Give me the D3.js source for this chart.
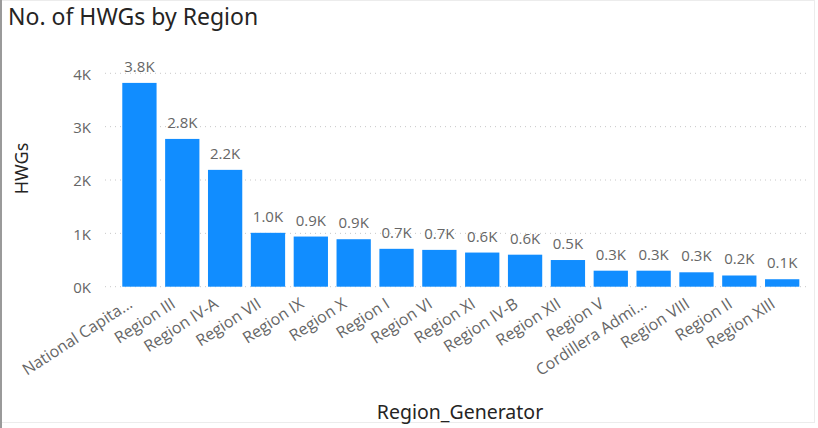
<!DOCTYPE html>
<html>
<head>
<meta charset="utf-8">
<script src="https://cdn.jsdelivr.net/npm/d3@7"></script>
<style>
  html, body { margin: 0; padding: 0; background: #ffffff; }
  svg { display: block; }
</style>
</head>
<body>
<svg id="chart" width="818" height="428"></svg>
<script>
const categories = ["National Capita...", "Region III", "Region IV-A", "Region VII", "Region IX", "Region X",
  "Region I", "Region VI", "Region XI", "Region IV-B", "Region XII", "Region V",
  "Cordillera Admi...", "Region VIII", "Region II", "Region XIII"];
const values = [3820, 2770, 2190, 1010, 940, 890, 710, 690, 640, 600, 500, 300, 300, 270, 210, 140];
const yTicks = [0, 1000, 2000, 3000, 4000];
const titleText = "No. of HWGs by Region";
const xTitle = "Region_Generator";
const yTitle = "HWGs";

const svg = d3.select("#chart");
const W = 818, H = 428;
const labelFont = "'Open Sans', 'Noto Sans', sans-serif";
const titleFont = "'Noto Sans', 'Open Sans', sans-serif";

// frame
svg.append("rect").attr("x", 0.5).attr("y", 0.5).attr("width", W - 4).attr("height", H - 6)
  .attr("fill", "none").attr("stroke", "#ececec");
svg.append("line").attr("x1", 1).attr("x2", 1).attr("y1", 0).attr("y2", H)
  .attr("stroke", "#9a9a9a").attr("stroke-width", 2);

const x = d3.scaleBand().domain(categories).range([118, 803.6]).paddingInner(0.2).paddingOuter(0.1);
const y = d3.scaleLinear().domain([0, 4000]).range([286.7, 73.3]);

// gridlines
svg.append("g").selectAll("line").data(yTicks).join("line")
  .attr("x1", 105).attr("x2", 806)
  .attr("y1", d => y(d)).attr("y2", d => y(d))
  .attr("stroke", "#c8c8c8").attr("stroke-width", 1)
  .attr("stroke-dasharray", "1,4");

// y axis
const yAxis = d3.axisLeft(y).tickValues(yTicks).tickSize(0).tickPadding(0)
  .tickFormat(d => (d / 1000) + "K");
const gy = svg.append("g").attr("transform", "translate(91,1)").call(yAxis);
gy.select(".domain").remove();
gy.selectAll("text").attr("font-family", labelFont).attr("font-size", 15).attr("fill", "#666666");

// bars
svg.append("g").selectAll("rect").data(values).join("rect")
  .attr("x", (d, i) => x(categories[i]))
  .attr("width", x.bandwidth())
  .attr("y", d => y(d))
  .attr("height", d => y(0) - y(d))
  .attr("fill", "#118dff");

// data labels
svg.append("g").selectAll("text").data(values).join("text")
  .attr("x", (d, i) => x(categories[i]) + x.bandwidth() / 2)
  .attr("y", d => y(d) - 11)
  .attr("text-anchor", "middle")
  .attr("font-family", labelFont).attr("font-size", 15).attr("fill", "#666666")
  .text(d => (d / 1000).toFixed(1) + "K");

// x axis labels
const xAxis = d3.axisBottom(x).tickSize(0).tickPadding(0);
const gx = svg.append("g").attr("transform", "translate(0,297)").call(xAxis);
gx.select(".domain").remove();
gx.selectAll("text")
  .attr("font-family", labelFont).attr("font-size", 16).attr("fill", "#666666")
  .attr("text-anchor", "end")
  .attr("dy", "0.71em")
  .attr("y", 0)
  .attr("transform", "translate(-12,0) rotate(-33)");

// titles
svg.append("text").attr("x", 8).attr("y", 25)
  .attr("font-family", titleFont).attr("font-size", 23).attr("fill", "#252423")
  .text(titleText);

svg.append("text").attr("x", 460).attr("y", 419).attr("text-anchor", "middle")
  .attr("font-family", titleFont).attr("font-size", 19.5).attr("fill", "#252423")
  .text(xTitle);

svg.append("text").attr("transform", "translate(28,168.5) rotate(-90)").attr("text-anchor", "middle")
  .attr("font-family", titleFont).attr("font-size", 18).attr("fill", "#252423")
  .text(yTitle);
</script>
</body>
</html>
